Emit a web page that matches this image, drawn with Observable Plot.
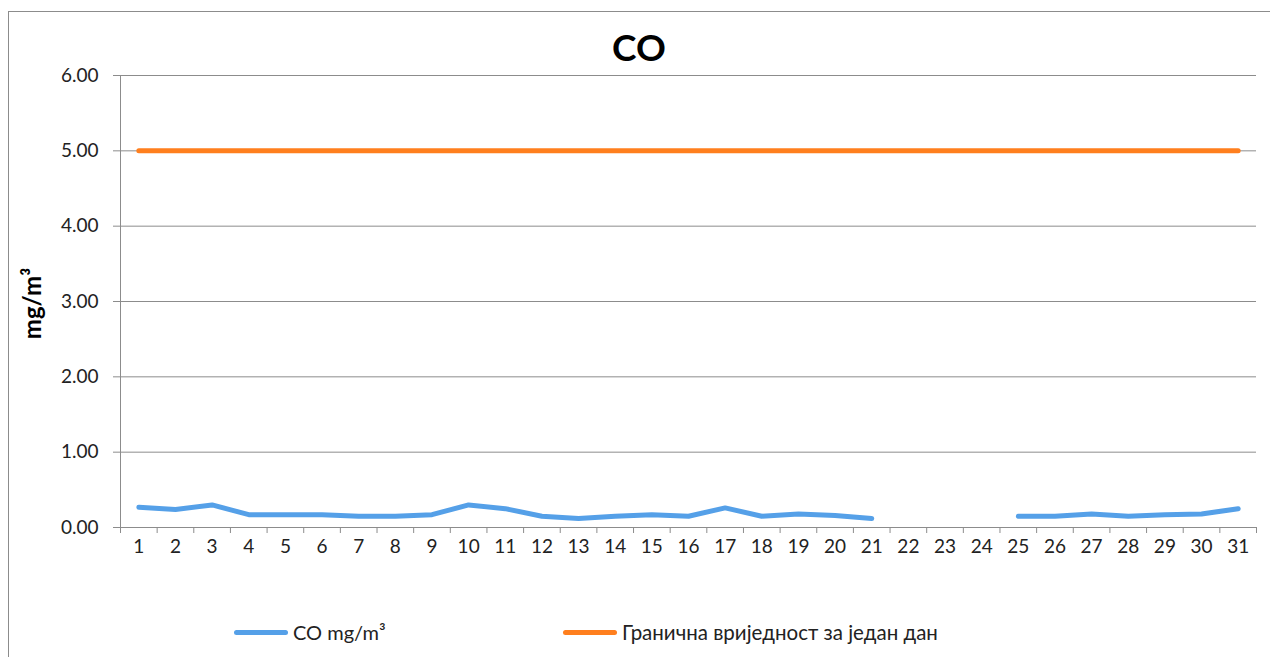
<!DOCTYPE html>
<html>
<head>
<meta charset="utf-8">
<script src="https://cdn.jsdelivr.net/npm/d3@7"></script>
<script src="https://cdn.jsdelivr.net/npm/@observablehq/plot@0.6"></script>
<style>
  html, body { margin: 0; padding: 0; background: #fff; }
  #wrap { position: relative; width: 1270px; height: 657px; overflow: hidden; font-family: Lato, "Open Sans", sans-serif; }
  #frame { position: absolute; left: 8px; top: 11px; width: 1300px; height: 700px; border-left: 1px solid #8c8c8c; border-top: 1px solid #8c8c8c; }
  #title { position: absolute; left: 0; width: 1278px; top: 24px; text-align: center; font-size: 37px; font-weight: bold; color: #000; }
  #chart { position: absolute; left: 0; top: 0; }
  .leg { position: absolute; top: 620px; font-size: 20px; color: #222; display: flex; align-items: center; white-space: nowrap; }
  .leg span.sw { display: inline-block; width: 54px; height: 5px; border-radius: 3px; margin-right: 5px; }
</style>
</head>
<body>
<div id="wrap">
  <div id="frame"></div>
  <div id="chart"></div>
  <div id="title">CO</div>
  <div class="leg" style="left:234px"><span class="sw" style="background:#55A0E8"></span>CO mg/m³</div>
  <div class="leg" style="left:563px; font-size:20.5px"><span class="sw" style="background:#FF7F1E"></span>Гранична вриједност за један дан</div>
</div>
<script>
const days = d3.range(1, 32);
const coValues = [0.27, 0.24, 0.30, 0.17, 0.17, 0.17, 0.15, 0.15, 0.17, 0.30,
                  0.25, 0.15, 0.12, 0.15, 0.17, 0.15, 0.26, 0.15, 0.18, 0.16,
                  0.12, null, null, null, 0.15, 0.15, 0.18, 0.15, 0.17, 0.18, 0.25];
const limitValue = 5.0;
const yTicks = [0, 1, 2, 3, 4, 5, 6];
const seriesNames = ["CO mg/m³", "Гранична вриједност за један дан"];
const colors = ["#55A0E8", "#FF7F1E"];

const coData = days.map((d, i) => ({day: d, value: coValues[i]}));
const limitData = days.map(d => ({day: d, value: limitValue}));
const boundaries = d3.range(0.5, 32, 1);

const chart = Plot.plot({
  width: 1270,
  height: 657,
  marginLeft: 120,
  marginRight: 14,
  marginTop: 75,
  marginBottom: 130,
  style: {fontFamily: "Lato, 'Open Sans', sans-serif", fontSize: "19px", color: "#222", background: "transparent", overflow: "visible"},
  x: {type: "linear", domain: [0.5, 31.5]},
  y: {domain: [0, 6]},
  marks: [
    Plot.gridY(yTicks, {stroke: "#8c8c8c", strokeOpacity: 1, strokeWidth: 1}),
    Plot.axisY(yTicks, {tickFormat: d => d.toFixed(2), tickSize: 7, tickPadding: 15, stroke: "#8c8c8c", label: null, fontSize: 19}),
    Plot.ruleX([0.5], {stroke: "#8c8c8c"}),
    Plot.axisX(boundaries, {tickFormat: () => "", tickSize: 6, stroke: "#8c8c8c", label: null}),
    Plot.axisX(days, {tickSize: 0, tickPadding: 12, label: null, fontSize: 19}),
    Plot.text(["mg/m³"], {frameAnchor: "left", textAnchor: "middle", dx: -87, dy: 2, rotate: -90, fontWeight: "bold", fontSize: 24, fill: "#000"}),
    Plot.line(limitData, {x: "day", y: "value", stroke: colors[1], strokeWidth: 5}),
    Plot.line(coData, {x: "day", y: "value", stroke: colors[0], strokeWidth: 5, curve: "linear"})
  ]
});
document.getElementById("chart").appendChild(chart);
</script>
</body>
</html>
